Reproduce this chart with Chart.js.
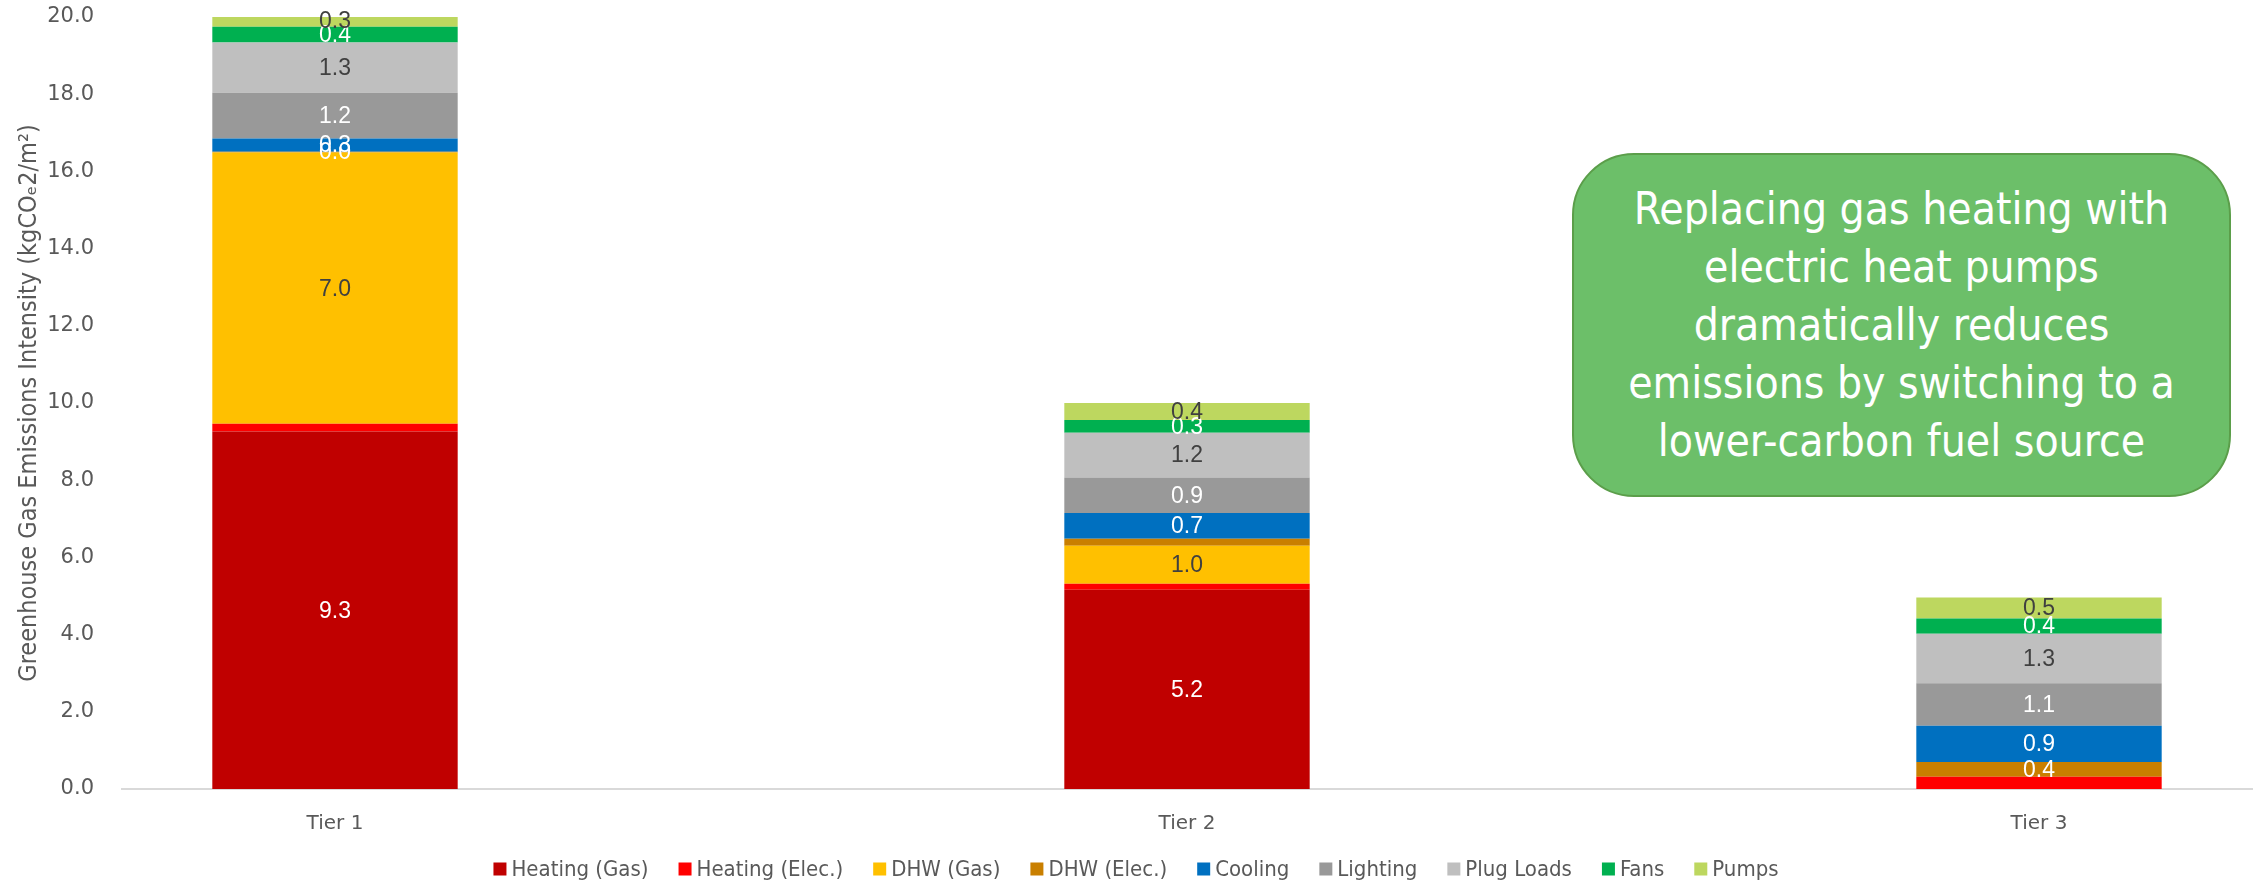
<!DOCTYPE html>
<html>
<head>
<meta charset="utf-8">
<script src="https://cdn.jsdelivr.net/npm/chart.js@4.4.0/dist/chart.umd.min.js"></script>
<style>
  html, body { margin: 0; padding: 0; background: #fff; }
  #wrap { position: relative; width: 2257px; height: 882px; }
  #note {
    position: absolute; left: 1572px; top: 153px; width: 659px; height: 344px;
    box-sizing: border-box; background: #6CBF69; border: 2.5px solid #5B9E4A;
    border-radius: 62px; color: #fff; text-align: center;
    font-family: "Liberation Sans Narrow", "DejaVu Sans Condensed", sans-serif;
    font-size: 44px; line-height: 58px;
    display: flex; align-items: center; justify-content: center;
  }
</style>
</head>
<body>
<div id="wrap">
  <canvas id="chart" width="2257" height="882"></canvas>
  <div id="note">Replacing gas heating with<br>electric heat pumps<br>dramatically reduces<br>emissions by switching to a<br>lower-carbon fuel source</div>
</div>
<script>
// categories
const tiers = ['Tier 1', 'Tier 2', 'Tier 3'];

// series values (kgCO2e/m2), one entry per tier
const heatingGas  = [9.26, 5.16, 0];
const heatingElec = [0.20, 0.16, 0.32];
const dhwGas      = [7.03, 0.98, 0];
const dhwElec     = [0.02, 0.18, 0.38];
const cooling     = [0.34, 0.67, 0.94];
const lighting    = [1.19, 0.92, 1.10];
const plugLoads   = [1.30, 1.16, 1.28];
const fans        = [0.41, 0.33, 0.40];
const pumps       = [0.31, 0.44, 0.54];

const seriesNames  = ['Heating (Gas)', 'Heating (Elec.)', 'DHW (Gas)', 'DHW (Elec.)', 'Cooling', 'Lighting', 'Plug Loads', 'Fans', 'Pumps'];
const seriesValues = [heatingGas, heatingElec, dhwGas, dhwElec, cooling, lighting, plugLoads, fans, pumps];
const seriesColors = ['#C00000', '#FF0000', '#FFC000', '#C97F00', '#0070C0', '#999999', '#BFBFBF', '#00B050', '#BDD75F'];
const labelColors  = ['#FFFFFF', '#FFFFFF', '#404040', '#FFFFFF', '#FFFFFF', '#FFFFFF', '#404040', '#FFFFFF', '#404040'];
// value labels that the original leaves out (series index -> tier indexes)
const hiddenLabels = { 1: [0, 1, 2], 3: [1] };

// y axis ticks
const yMin = 0, yMax = 20, yStep = 2;

const narrow = '"Liberation Sans Narrow", "DejaVu Sans Condensed", sans-serif';
const plain = '"Liberation Sans", Arial, sans-serif';
const wide = '"DejaVu Sans", sans-serif';

const datasets = seriesNames.map((name, s) => ({
    label: name,
    data: seriesValues[s].map((v, i) => ({ x: i, y: v })),
    backgroundColor: seriesColors[s],
    borderWidth: 0,
    categoryPercentage: 1,
    barPercentage: 0.288
}));

// value labels in the middle of each segment
const barLabels = {
    id: 'barLabels',
    afterDatasetsDraw(chart) {
        const ctx = chart.ctx;
        ctx.save();
        ctx.font = '23px ' + plain;
        ctx.textAlign = 'center';
        ctx.textBaseline = 'middle';
        chart.data.datasets.forEach((ds, s) => {
            chart.getDatasetMeta(s).data.forEach((bar, i) => {
                const v = ds.data[i].y;
                if (!v || (hiddenLabels[s] || []).includes(i)) return;
                ctx.fillStyle = labelColors[s];
                ctx.fillText(v.toFixed(1), bar.x, (bar.y + bar.base) / 2 + 1);
            });
        });
        ctx.restore();
    }
};

// legend along the bottom, Excel style spacing
const bottomLegend = {
    id: 'bottomLegend',
    afterDraw(chart) {
        const ctx = chart.ctx;
        const box = 13, gapText = 5, gapItem = 30, cy = 869;
        ctx.save();
        ctx.font = '22px ' + narrow;
        ctx.textBaseline = 'middle';
        const widths = seriesNames.map(n => ctx.measureText(n).width);
        const total = widths.reduce((a, w) => a + box + gapText + w, 0) + gapItem * (seriesNames.length - 1);
        let x = 1136 - total / 2;
        seriesNames.forEach((n, s) => {
            ctx.fillStyle = seriesColors[s];
            ctx.fillRect(x, cy - box / 2, box, box);
            ctx.fillStyle = '#595959';
            ctx.fillText(n, x + box + gapText, cy + 1);
            x += box + gapText + widths[s] + gapItem;
        });
        ctx.restore();
    }
};

new Chart(document.getElementById('chart'), {
    type: 'bar',
    data: { datasets: datasets },
    plugins: [barLabels, bottomLegend],
    options: {
        responsive: false,
        animation: false,
        layout: { padding: { top: 17, right: 5, bottom: 0, left: 0 } },
        plugins: {
            legend: { display: false },
            tooltip: { enabled: false }
        },
        scales: {
            x: {
                type: 'linear',
                stacked: true,
                offset: false,
                min: -0.25,
                max: 2.25,
                grid: { display: false },
                border: { color: '#D9D9D9', width: 2 },
                afterBuildTicks: scale => { scale.ticks = tiers.map((t, i) => ({ value: i })); },
                afterFit: scale => { scale.height = 93; scale.paddingLeft = 0; scale.paddingRight = 0; },
                ticks: {
                    callback: v => tiers[v],
                    color: '#595959',
                    padding: 15,
                    maxRotation: 0,
                    font: { family: wide, size: 20 }
                }
            },
            y: {
                stacked: true,
                min: yMin,
                max: yMax,
                grid: { display: false },
                border: { display: false },
                afterFit: scale => { scale.width = 122; scale.paddingTop = 0; scale.paddingBottom = 0; },
                ticks: {
                    stepSize: yStep,
                    callback: v => v.toFixed(1),
                    color: '#595959',
                    padding: 20,
                    font: { family: wide, size: 21 }
                },
                title: {
                    display: true,
                    text: 'Greenhouse Gas Emissions Intensity (kgCO\u20912/m\u00B2)',
                    color: '#595959',
                    padding: { top: 14, bottom: 0 },
                    font: { family: narrow, size: 25 }
                }
            }
        }
    }
});
</script>
</body>
</html>
